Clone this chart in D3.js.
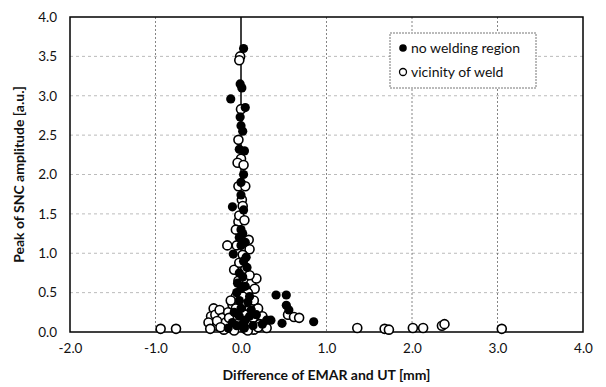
<!DOCTYPE html>
<html>
<head>
<meta charset="utf-8">
<script src="https://cdn.jsdelivr.net/npm/d3@7"></script>
<style>
  body { margin: 0; background: #fff; }
  text { font-family: Lato, "Open Sans", sans-serif; fill: #111; }
</style>
</head>
<body>
<svg width="606" height="387"></svg>
<script>
// tick labels
var xTicks = [-2, -1, 0, 1, 2, 3, 4];
var yTicks = [0, 0.5, 1, 1.5, 2, 2.5, 3, 3.5, 4];

// no welding region (filled)
var noWeld = [
  [0.03,3.6],[-0.01,3.15],[0.01,3.1],[-0.12,2.96],[0.05,2.85],[-0.01,2.73],[0.0,2.62],
  [0.02,2.55],[-0.02,2.32],[0.04,2.3],[0.03,2.0],[0.0,1.9],[0.0,1.74],[-0.1,1.59],
  [0.03,1.55],[0.0,1.3],[0.02,1.25],[-0.02,1.2],[0.05,1.14],[0.0,1.1],[-0.09,0.99],
  [0.06,0.95],[0.03,0.9],[-0.02,0.75],[0.02,0.7],[0.05,0.58],[0.0,0.55],[-0.05,0.5],
  [0.1,0.45],[0.08,0.38],[-0.02,0.4],[0.0,0.3],[0.05,0.15],[-0.02,0.2],[0.02,0.1],
  [-0.05,0.08],[0.1,0.2],[0.14,0.08],[0.25,0.1],[0.3,0.15],[-0.15,0.05],[0.18,0.22],
  [-0.08,0.25],[0.04,0.05],[-0.1,0.12],[0.12,0.28],[-0.04,0.62],[0.07,0.82],
  [0.41,0.47],[0.53,0.47],[0.53,0.34],[0.56,0.28],[0.35,0.15],[0.48,0.11],[0.85,0.13]
];

// vicinity of weld (open)
var nearWeld = [
  [-0.01,3.5],[-0.02,3.45],[0.0,2.83],[-0.03,2.44],[0.0,2.2],[-0.04,2.15],[0.03,2.12],
  [-0.03,1.85],[0.05,1.85],[0.01,1.68],[0.02,1.6],[-0.03,1.4],[-0.06,1.3],[-0.02,1.48],
  [0.04,1.42],[-0.16,1.1],[-0.05,1.1],[0.09,1.17],[0.1,1.05],[0.02,0.98],[-0.08,0.79],
  [0.05,0.8],[-0.03,0.65],[0.12,0.62],[0.18,0.68],[0.16,0.55],[0.08,0.5],[-0.06,0.45],
  [-0.32,0.3],[-0.35,0.2],[-0.38,0.12],[-0.3,0.22],[-0.25,0.28],[-0.22,0.18],[-0.28,0.08],
  [-0.18,0.12],[-0.15,0.25],[-0.1,0.35],[-0.12,0.05],[-0.2,0.03],[-0.05,0.15],[0.0,0.28],
  [0.05,0.22],[0.1,0.32],[0.15,0.4],[0.2,0.3],[0.25,0.2],[0.12,0.12],[0.05,0.04],
  [0.15,0.03],[0.3,0.05],[0.08,0.02],[0.02,0.08],[-0.08,0.02],[0.22,0.1],
  [-0.36,0.04],[-0.28,0.14],[-0.24,0.06],[-0.14,0.18],[-0.06,0.3],[0.06,0.38],
  [0.14,0.18],[0.2,0.06],[0.02,0.45],[-0.12,0.4],[0.1,0.72],[-0.02,0.88],
  [0.55,0.22],[0.62,0.19],[0.68,0.18],
  [-0.94,0.04],[-0.76,0.04],[1.36,0.05],[1.68,0.04],[1.73,0.03],[2.01,0.05],[2.13,0.05],
  [2.35,0.08],[2.38,0.1],[3.05,0.04]
];

var svg = d3.select('svg');
var mLeft = 70, mRight = 583, mTop = 17, mBottom = 332;

var x = d3.scaleLinear().domain([-2, 4]).range([mLeft, mRight]);
var y = d3.scaleLinear().domain([0, 4]).range([mBottom, mTop]);
var fmt = function(d){ return d3.format('.1f')(d).replace('\u2212', '-'); };

// grid
svg.append('g').selectAll('line').data(yTicks.slice(1, -1)).enter()
  .append('line')
    .attr('x1', mLeft).attr('x2', mRight)
    .attr('y1', function(d){ return y(d); }).attr('y2', function(d){ return y(d); })
    .attr('stroke', '#aaa').attr('stroke-dasharray', '3,3').attr('stroke-width', 0.8);

svg.append('g').selectAll('line').data(xTicks.filter(function(d){ return d !== 0 && d > -2 && d < 4; })).enter()
  .append('line')
    .attr('x1', function(d){ return x(d); }).attr('x2', function(d){ return x(d); })
    .attr('y1', mTop).attr('y2', mBottom)
    .attr('stroke', '#666').attr('stroke-dasharray', '2,2').attr('stroke-width', 0.8);

// zero line
svg.append('line')
  .attr('x1', x(0)).attr('x2', x(0)).attr('y1', mTop).attr('y2', mBottom)
  .attr('stroke', '#000').attr('stroke-width', 1.5);

// frame
svg.append('rect')
  .attr('x', mLeft).attr('y', mTop).attr('width', mRight - mLeft).attr('height', mBottom - mTop)
  .attr('fill', 'none').attr('stroke', '#000').attr('stroke-width', 1.5);

// tick labels through d3 axes
var xAxis = svg.append('g').attr('transform', 'translate(0,' + (mBottom + 8) + ')')
  .call(d3.axisBottom(x).tickValues(xTicks).tickSize(0).tickFormat(fmt));
var yAxis = svg.append('g').attr('transform', 'translate(' + (mLeft - 10) + ',0)')
  .call(d3.axisLeft(y).tickValues(yTicks).tickSize(0).tickFormat(fmt));
[xAxis, yAxis].forEach(function(a){
  a.select('.domain').remove();
  a.selectAll('text').style('font-size', '13.5px').style('font-family', 'Lato, sans-serif').attr('fill', '#111');
});

svg.append('text')
  .attr('x', (mLeft + mRight) / 2).attr('y', 380)
  .attr('text-anchor', 'middle')
  .style('font-size', '14px').style('font-weight', 'bold')
  .text('Difference of EMAR and UT [mm]');

svg.append('text')
  .attr('transform', 'translate(24,' + ((mTop + mBottom) / 2) + ') rotate(-90)')
  .attr('text-anchor', 'middle')
  .style('font-size', '14px').style('font-weight', 'bold')
  .text('Peak of SNC amplitude [a.u.]');

// points
svg.append('g').selectAll('circle').data(nearWeld).enter()
  .append('circle')
    .attr('cx', function(d){ return x(d[0]); })
    .attr('cy', function(d){ return y(d[1]); })
    .attr('r', 4.5)
    .attr('fill', '#fff').attr('stroke', '#000').attr('stroke-width', 1.6);

svg.append('g').selectAll('circle').data(noWeld).enter()
  .append('circle')
    .attr('cx', function(d){ return x(d[0]); })
    .attr('cy', function(d){ return y(d[1]); })
    .attr('r', 4.6)
    .attr('fill', '#000');

// legend
var lg = svg.append('g').attr('transform', 'translate(390,33)');
lg.append('rect').attr('width', 146).attr('height', 55)
  .attr('fill', '#fff').attr('stroke', '#777').attr('stroke-dasharray', '2,1');
lg.append('circle').attr('cx', 13).attr('cy', 15).attr('r', 3.8).attr('fill', '#000');
lg.append('circle').attr('cx', 13).attr('cy', 39).attr('r', 3.5)
  .attr('fill', '#fff').attr('stroke', '#000').attr('stroke-width', 1.3);
lg.append('text').attr('x', 21).attr('y', 20).style('font-size', '14px').text('no welding region');
lg.append('text').attr('x', 21).attr('y', 44).style('font-size', '14px').text('vicinity of weld');
</script>
</body>
</html>
